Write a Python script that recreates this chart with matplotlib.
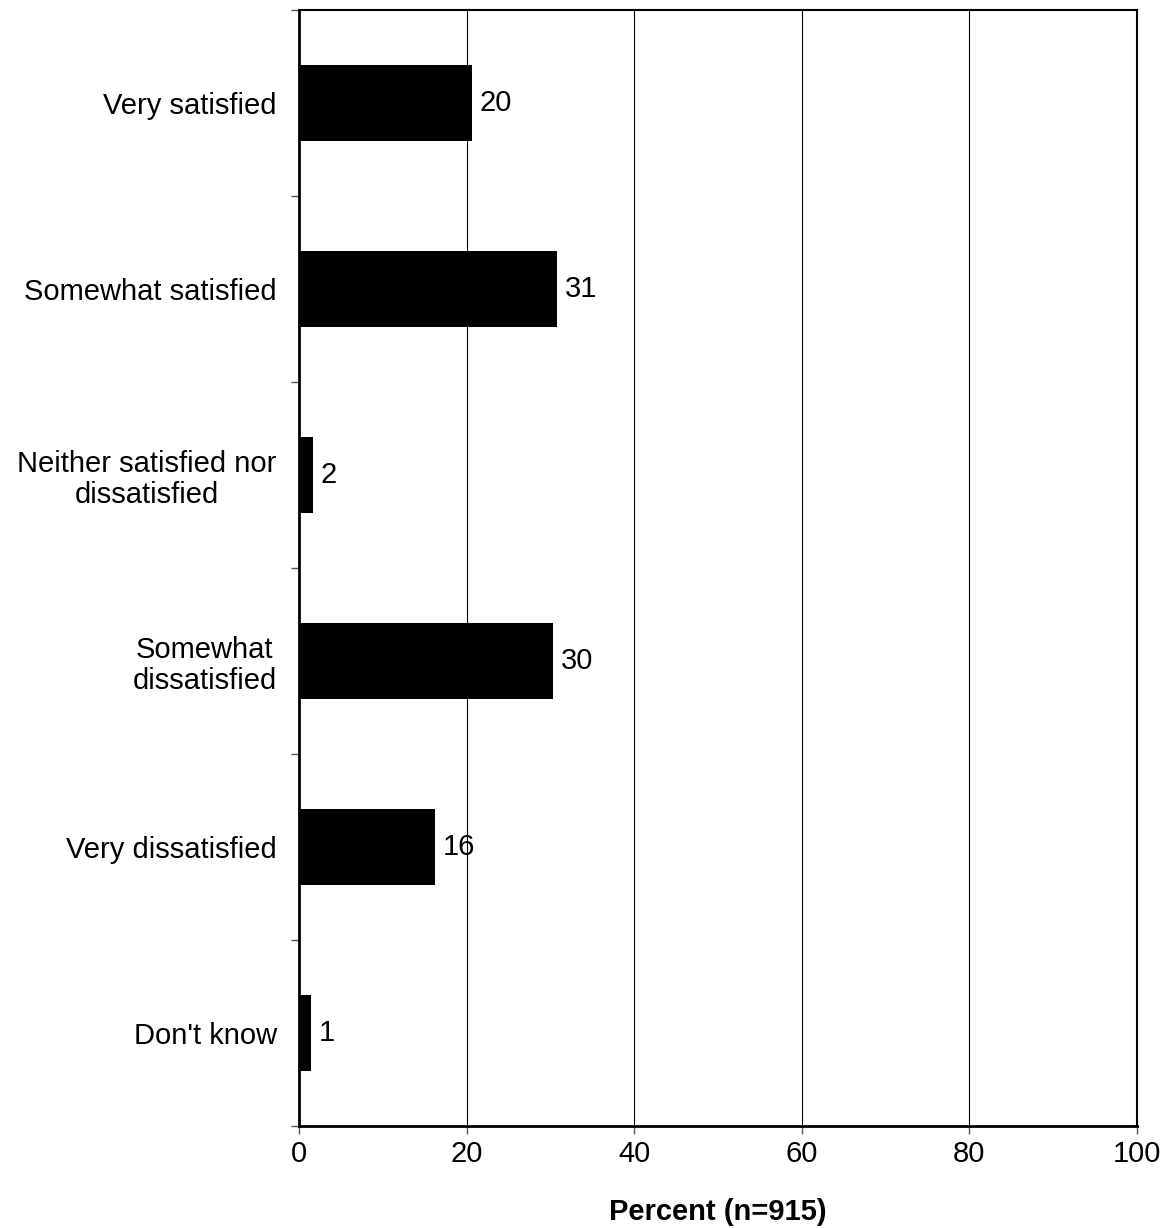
import matplotlib
matplotlib.use("Agg")
import matplotlib.pyplot as plt

categories = ["Very satisfied", "Somewhat satisfied", "Neither satisfied nor\ndissatisfied",
              "Somewhat\ndissatisfied", "Very dissatisfied", "Don't know"]
values = [20.6, 30.8, 1.7, 30.3, 16.2, 1.4]
labels = ["20", "31", "2", "30", "16", "1"]
xticks = [0, 20, 40, 60, 80, 100]

plt.rcParams['font.family'] = ['Liberation Sans', 'DejaVu Sans']
FS = 21

fig = plt.figure(figsize=(11.66, 12.28), dpi=100)
W, H = 1166, 1228
ax = fig.add_axes([299 / W, 1 - 1126 / H, (1137 - 299) / W, (1126 - 10) / H])

pos = list(range(len(categories)))
ax.barh(pos, values, height=0.41, color='black', zorder=3)
for p, v, t in zip(pos, values, labels):
    ax.text(v + 0.9, p, t, va='center', ha='left', fontsize=FS, zorder=4)

ax.set_xlim(0, 100)
ax.set_ylim(len(categories) - 0.5, -0.5)
ax.set_xticks(xticks)
ax.set_xticklabels([str(x) for x in xticks], fontsize=FS)
ax.set_yticks(pos)
ax.set_yticklabels(categories, fontsize=FS, ha='right', multialignment='center',
                   linespacing=1.15)
ax.tick_params(axis='y', length=0, pad=16)
ax.set_yticks([i - 0.5 for i in range(len(categories) + 1)], minor=True)
ax.tick_params(axis='y', which='minor', length=6, width=1, color='#555555')
ax.tick_params(axis='x', length=6, width=1, pad=4, color='#555555')
ax.xaxis.grid(True, color='black', linewidth=0.8, zorder=0)
for s in ['left', 'bottom']:
    ax.spines[s].set_linewidth(2)
for s in ['top', 'right']:
    ax.spines[s].set_linewidth(1.5)
ax.set_xlabel("Percent (n=915)", fontsize=FS, fontweight='bold', labelpad=22)

fig.savefig("out.png", dpi=100)
